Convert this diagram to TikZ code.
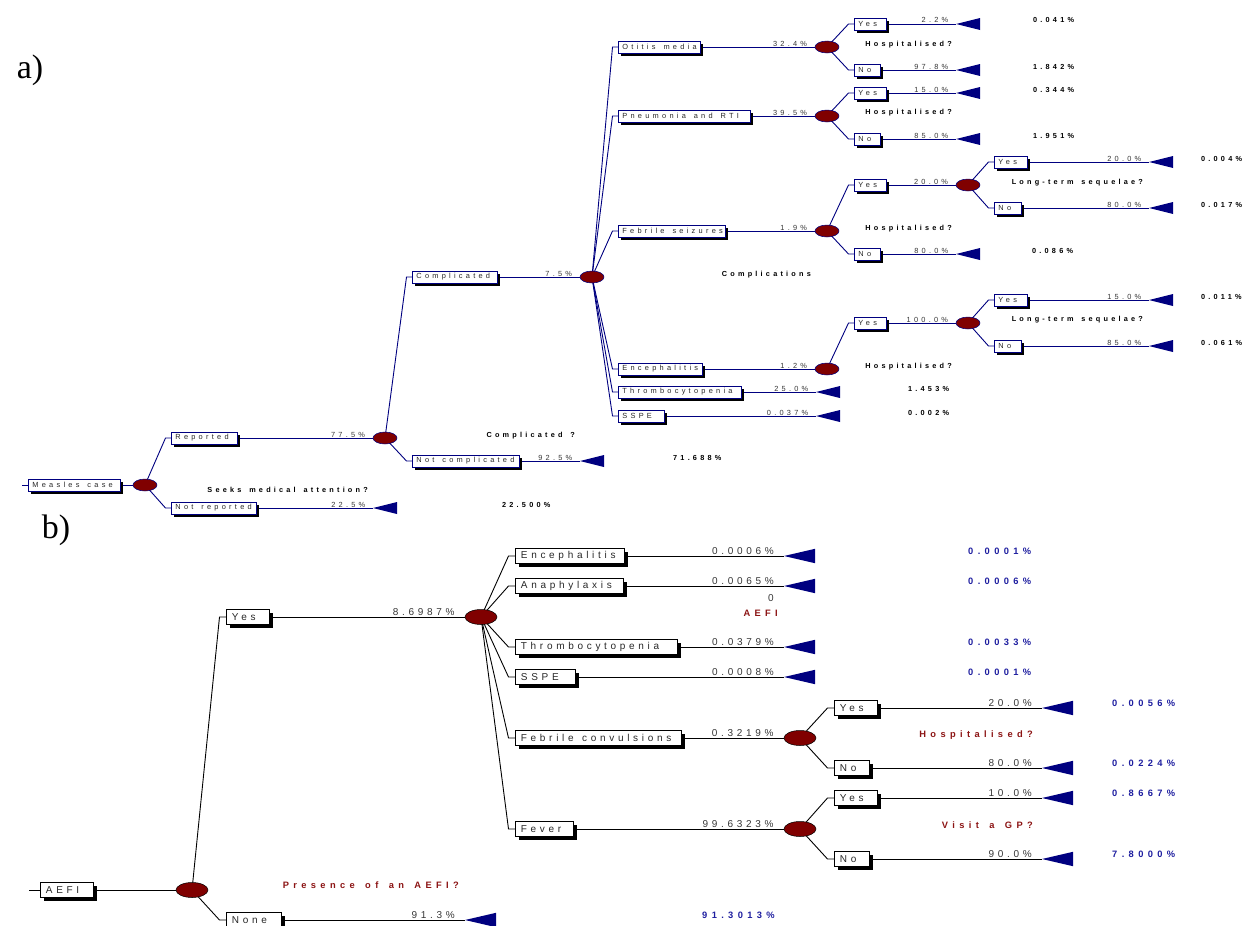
\documentclass[tikz,border=0pt]{standalone}
\usepackage{fontspec}
\setmainfont{Liberation Serif}
\newfontfamily\fa[LetterSpace=44,WordSpace=1.5]{Liberation Sans}
\newfontfamily\fb[LetterSpace=37,WordSpace=1.3]{Liberation Sans}
\newfontfamily\fbb[LetterSpace=47,WordSpace=1.5]{Liberation Sans}
\usetikzlibrary{shadows,shapes.geometric}
\pgfdeclarelayer{bg}
\pgfsetlayers{bg,main}
\definecolor{navyA}{RGB}{0,0,128}
\definecolor{chancecol}{RGB}{128,0,0}
\definecolor{qred}{RGB}{140,20,20}
\definecolor{vblue}{RGB}{30,30,160}
\definecolor{txtg}{RGB}{40,40,40}
\definecolor{prg}{RGB}{55,55,55}
\newcommand{\bw}[2]{\makebox[#1pt][l]{#2}}
\newcommand{\triA}[2]{\coordinate (#1) at (#2); \fill[navyA] (#1) -- ++(24,6) -- ++(0,-12) -- cycle;}
\newcommand{\triB}[2]{\coordinate (#1) at (#2); \fill[navyA] (#1) -- ++(31,7.2) -- ++(0,-14.4) -- cycle;}
\newcommand{\brA}[2]{\draw[lnA] (#1.center) -- ([xshift=-5.5pt]#2.west) -- (#2.west);}
\newcommand{\brB}[2]{\draw[lnB] (#1.center) -- ([xshift=-6.5pt]#2.west) -- (#2.west);}
\newcommand{\pA}[3]{\node[prA, anchor=base east] (#1) at ([xshift=-7.5pt,yshift=1pt]#2) {#3};}
\newcommand{\pB}[3]{\node[prB, anchor=base east] (#1) at ([xshift=-10pt,yshift=1.5pt]#2) {#3};}
\begin{document}
\begin{tikzpicture}[x=1pt,y=-1pt,
 boxA/.style={draw=navyA, line width=0.8pt, fill=white, minimum height=12pt, inner xsep=4pt, inner ysep=0pt, anchor=west,
   font=\fa\fontsize{7.4}{8}\selectfont, text=txtg,
   drop shadow={shadow xshift=3pt, shadow yshift=-2.5pt, fill=black, opacity=1}},
 boxB/.style={draw=black, line width=0.8pt, fill=white, minimum height=15.5pt, inner xsep=5.5pt, inner ysep=0pt, anchor=west,
   font=\fb\fontsize{10}{12}\selectfont, text=txtg,
   drop shadow={shadow xshift=4pt, shadow yshift=-3.5pt, fill=black, opacity=1}},
 chA/.style={ellipse, fill=chancecol, draw=navyA, line width=0.5pt, minimum width=24pt, minimum height=12pt, inner sep=0pt},
 chB/.style={ellipse, fill=chancecol, draw=black, line width=0.5pt, minimum width=32pt, minimum height=15pt, inner sep=0pt},
 lnA/.style={draw=navyA, line width=0.9pt},
 lnB/.style={draw=black, line width=0.9pt},
 prA/.style={inner sep=0pt, font=\fa\fontsize{7.4}{8}\selectfont, text=prg},
 prB/.style={inner sep=0pt, font=\fb\fontsize{10}{12}\selectfont, text=prg},
 qA/.style={inner sep=0pt, font=\fa\bfseries\fontsize{7.3}{8}\selectfont, text=black, anchor=base east},
 vA/.style={inner sep=0pt, font=\fa\bfseries\fontsize{7.3}{8}\selectfont, text=black, anchor=base west},
 qB/.style={inner sep=0pt, font=\fbb\bfseries\fontsize{9.3}{11}\selectfont, text=qred, anchor=base east},
 vB/.style={inner sep=0pt, font=\fbb\bfseries\fontsize{9.3}{11}\selectfont, text=vblue, anchor=base west},
 lab/.style={inner sep=0pt, font=\fontsize{34}{36}\selectfont, text=black}
]
\begin{pgfonlayer}{bg}
\fill[white] (0,0) rectangle (1242,926);
\end{pgfonlayer}
\useasboundingbox (0,0) rectangle (1242,926);

\node[lab] (la) at (30,70) {a)};
\node[lab] (lb) at (56,530) {b)};

% ================= PART A =================
\coordinate (a0) at (22,485);
\node[boxA] (ms) at (28,485) {\bw{84}{Measles case}};
\node[chA] (c1) at (145,485) {};
\node[boxA] (rep) at (171,438) {\bw{58}{Reported}};
\node[boxA] (nrep) at (171,508) {\bw{77}{Not reported}};
\node[chA] (c2) at (385,438) {};
\triA{tnrep}{373,508}
\node[boxA] (comp) at (412,277) {\bw{77}{Complicated}};
\node[boxA] (ncomp) at (412,461) {\bw{99}{Not complicated}};
\node[chA] (c3) at (592,277) {};
\triA{tncomp}{580,461}

\node[boxA] (om) at (618,47) {\bw{74}{Otitis media}};
\node[boxA] (pn) at (618,116) {\bw{124}{Pneumonia and RTI}};
\node[boxA] (fs) at (618,231) {\bw{99}{Febrile seizures}};
\node[boxA] (en) at (618,369) {\bw{76}{Encephalitis}};
\node[boxA] (th) at (618,392) {\bw{115}{Thrombocytopenia}};
\node[boxA] (ss) at (618,416) {\bw{38}{SSPE}};
\node[chA] (com) at (827,47) {};
\node[chA] (cpn) at (827,116) {};
\node[chA] (cfs) at (827,231) {};
\node[chA] (cen) at (827,369) {};
\triA{tth}{816,392}
\triA{tss}{816,416}

\node[boxA] (omy) at (854,24) {\bw{24}{Yes}};
\node[boxA] (omn) at (854,70) {\bw{18}{No}};
\triA{tomy}{956,24}
\triA{tomn}{956,70}
\node[boxA] (pny) at (854,93) {\bw{24}{Yes}};
\node[boxA] (pnn) at (854,139) {\bw{18}{No}};
\triA{tpny}{956,93}
\triA{tpnn}{956,139}
\node[boxA] (fsy) at (854,185) {\bw{24}{Yes}};
\node[boxA] (fsn) at (854,254) {\bw{18}{No}};
\node[chA] (cfsy) at (968,185) {};
\triA{tfsn}{956,254}
\node[boxA] (fsyy) at (994,162) {\bw{25}{Yes}};
\node[boxA] (fsyn) at (994,208) {\bw{19}{No}};
\triA{tfsyy}{1149,162}
\triA{tfsyn}{1149,208}
\node[boxA] (eny) at (854,323) {\bw{24}{Yes}};
\node[chA] (ceny) at (968,323) {};
\node[boxA] (enyy) at (994,300) {\bw{25}{Yes}};
\node[boxA] (enyn) at (994,346) {\bw{19}{No}};
\triA{tenyy}{1149,300}
\triA{tenyn}{1149,346}

% probabilities (a)
\pA{p1}{c2.west}{77.5\%}
\pA{p2}{tnrep}{22.5\%}
\pA{p3}{c3.west}{7.5\%}
\pA{p4}{tncomp}{92.5\%}
\pA{p5}{com.west}{32.4\%}
\pA{p6}{cpn.west}{39.5\%}
\pA{p7}{cfs.west}{1.9\%}
\pA{p8}{cen.west}{1.2\%}
\pA{p9}{tth}{25.0\%}
\pA{p10}{tss}{0.037\%}
\pA{p11}{tomy}{2.2\%}
\pA{p12}{tomn}{97.8\%}
\pA{p13}{tpny}{15.0\%}
\pA{p14}{tpnn}{85.0\%}
\pA{p15}{cfsy.west}{20.0\%}
\pA{p16}{tfsn}{80.0\%}
\pA{p17}{tfsyy}{20.0\%}
\pA{p18}{tfsyn}{80.0\%}
\pA{p19}{ceny.west}{100.0\%}
\pA{p20}{tenyy}{15.0\%}
\pA{p21}{tenyn}{85.0\%}

% questions (a)
\node[qA] (q1) at (368,492) {Seeks medical attention?};
\node[qA] (q2) at (575,437) {Complicated ?};
\node[qA] (q3) at (811,276) {Complications};
\node[qA] (q4) at (952,46) {Hospitalised?};
\node[qA] (q5) at (952,114.5) {Hospitalised?};
\node[qA] (q6) at (952,230) {Hospitalised?};
\node[qA] (q7) at (952,368) {Hospitalised?};
\node[qA] (q8) at (1143,184) {Long-term sequelae?};
\node[qA] (q9) at (1143,321) {Long-term sequelae?};

% values (a)
\node[vA] (v1) at (1033,23) {0.041\%};
\node[vA] (v2) at (1033,69) {1.842\%};
\node[vA] (v3) at (1033,92) {0.344\%};
\node[vA] (v4) at (1033,138) {1.951\%};
\node[vA] (v5) at (1201,161) {0.004\%};
\node[vA] (v6) at (1201,207) {0.017\%};
\node[vA] (v7) at (1032,253) {0.086\%};
\node[vA] (v8) at (1201,299) {0.011\%};
\node[vA] (v9) at (1201,345) {0.061\%};
\node[vA] (v10) at (908,391) {1.453\%};
\node[vA] (v11) at (908,415) {0.002\%};
\node[vA] (v12) at (673,460) {71.688\%};
\node[vA] (v13) at (502,507) {22.500\%};

% ================= PART B =================
\coordinate (b0) at (29,890);
\node[boxB] (ae) at (40,890) {\bw{42}{AEFI}};
\node[chB] (d1) at (192,890) {};
\node[boxB] (by) at (226,617) {\bw{32}{Yes}};
\node[boxB] (bn) at (226,920) {\bw{44}{None}};
\node[chB] (d2) at (481,617) {};
\triB{tbn}{465,920}
\node[boxB] (benc) at (515,556) {\bw{98}{Encephalitis}};
\node[boxB] (bana) at (515,586) {\bw{97}{Anaphylaxis}};
\node[boxB] (bthr) at (515,647) {\bw{151}{Thrombocytopenia}};
\node[boxB] (bss) at (515,677) {\bw{49}{SSPE}};
\node[boxB] (bfc) at (515,738) {\bw{155}{Febrile convulsions}};
\node[boxB] (bfv) at (515,829) {\bw{47}{Fever}};
\triB{tbenc}{784,556}
\triB{tbana}{784,586}
\triB{tbthr}{784,647}
\triB{tbss}{784,677}
\node[chB] (dfc) at (800,738) {};
\node[chB] (dfv) at (800,829) {};
\node[boxB] (bfcy) at (834,708) {\bw{32}{Yes}};
\node[boxB] (bfcn) at (834,768) {\bw{24}{No}};
\node[boxB] (bfvy) at (834,798) {\bw{32}{Yes}};
\node[boxB] (bfvn) at (834,859) {\bw{24}{No}};
\triB{tbfcy}{1042,708}
\triB{tbfcn}{1042,768}
\triB{tbfvy}{1042,798}
\triB{tbfvn}{1042,859}

% probabilities (b)
\pB{r1}{d2.west}{8.6987\%}
\pB{r2}{tbn}{91.3\%}
\pB{r3}{tbenc}{0.0006\%}
\pB{r4}{tbana}{0.0065\%}
\pB{r5}{tbthr}{0.0379\%}
\pB{r6}{tbss}{0.0008\%}
\pB{r7}{dfc.west}{0.3219\%}
\pB{r8}{dfv.west}{99.6323\%}
\pB{r9}{tbfcy}{20.0\%}
\pB{r10}{tbfcn}{80.0\%}
\pB{r11}{tbfvy}{10.0\%}
\pB{r12}{tbfvn}{90.0\%}
\node[prB, anchor=base east] (zero) at (774,601) {0};

% questions (b)
\node[qB] (s1) at (459,888) {Presence of an AEFI?};
\node[qB] (s2) at (778,616) {AEFI};
\node[qB] (s3) at (1033,737) {Hospitalised?};
\node[qB] (s4) at (1033,828) {Visit a GP?};

% values (b)
\node[vB] (w1) at (968,554.5) {0.0001\%};
\node[vB] (w2) at (968,584.5) {0.0006\%};
\node[vB] (w3) at (968,645.5) {0.0033\%};
\node[vB] (w4) at (968,675.5) {0.0001\%};
\node[vB] (w5) at (1112,706.5) {0.0056\%};
\node[vB] (w6) at (1112,766.5) {0.0224\%};
\node[vB] (w7) at (1112,796.5) {0.8667\%};
\node[vB] (w8) at (1112,857.5) {7.8000\%};
\node[vB] (w9) at (702,918.5) {91.3013\%};

% ================= CONNECTORS =================
\begin{pgfonlayer}{bg}
\draw[lnA] (a0) -- (ms.west);
\draw[lnA] (ms.east) -- (c1.west);
\brA{c1}{rep} \brA{c1}{nrep}
\draw[lnA] (rep.east) -- (c2.west);
\draw[lnA] (nrep.east) -- (tnrep);
\brA{c2}{comp} \brA{c2}{ncomp}
\draw[lnA] (comp.east) -- (c3.west);
\draw[lnA] (ncomp.east) -- (tncomp);
\brA{c3}{om} \brA{c3}{pn} \brA{c3}{fs} \brA{c3}{en} \brA{c3}{th} \brA{c3}{ss}
\draw[lnA] (om.east) -- (com.west);
\draw[lnA] (pn.east) -- (cpn.west);
\draw[lnA] (fs.east) -- (cfs.west);
\draw[lnA] (en.east) -- (cen.west);
\draw[lnA] (th.east) -- (tth);
\draw[lnA] (ss.east) -- (tss);
\brA{com}{omy} \brA{com}{omn}
\draw[lnA] (omy.east) -- (tomy);
\draw[lnA] (omn.east) -- (tomn);
\brA{cpn}{pny} \brA{cpn}{pnn}
\draw[lnA] (pny.east) -- (tpny);
\draw[lnA] (pnn.east) -- (tpnn);
\brA{cfs}{fsy} \brA{cfs}{fsn}
\draw[lnA] (fsy.east) -- (cfsy.west);
\draw[lnA] (fsn.east) -- (tfsn);
\brA{cfsy}{fsyy} \brA{cfsy}{fsyn}
\draw[lnA] (fsyy.east) -- (tfsyy);
\draw[lnA] (fsyn.east) -- (tfsyn);
\brA{cen}{eny}
\draw[lnA] (eny.east) -- (ceny.west);
\brA{ceny}{enyy} \brA{ceny}{enyn}
\draw[lnA] (enyy.east) -- (tenyy);
\draw[lnA] (enyn.east) -- (tenyn);

\draw[lnB] (b0) -- (ae.west);
\draw[lnB] (ae.east) -- (d1.west);
\brB{d1}{by} \brB{d1}{bn}
\draw[lnB] (by.east) -- (d2.west);
\draw[lnB] (bn.east) -- (tbn);
\brB{d2}{benc} \brB{d2}{bana} \brB{d2}{bthr} \brB{d2}{bss} \brB{d2}{bfc} \brB{d2}{bfv}
\draw[lnB] (benc.east) -- (tbenc);
\draw[lnB] (bana.east) -- (tbana);
\draw[lnB] (bthr.east) -- (tbthr);
\draw[lnB] (bss.east) -- (tbss);
\draw[lnB] (bfc.east) -- (dfc.west);
\draw[lnB] (bfv.east) -- (dfv.west);
\brB{dfc}{bfcy} \brB{dfc}{bfcn}
\brB{dfv}{bfvy} \brB{dfv}{bfvn}
\draw[lnB] (bfcy.east) -- (tbfcy);
\draw[lnB] (bfcn.east) -- (tbfcn);
\draw[lnB] (bfvy.east) -- (tbfvy);
\draw[lnB] (bfvn.east) -- (tbfvn);
\end{pgfonlayer}
\end{tikzpicture}
\end{document}
